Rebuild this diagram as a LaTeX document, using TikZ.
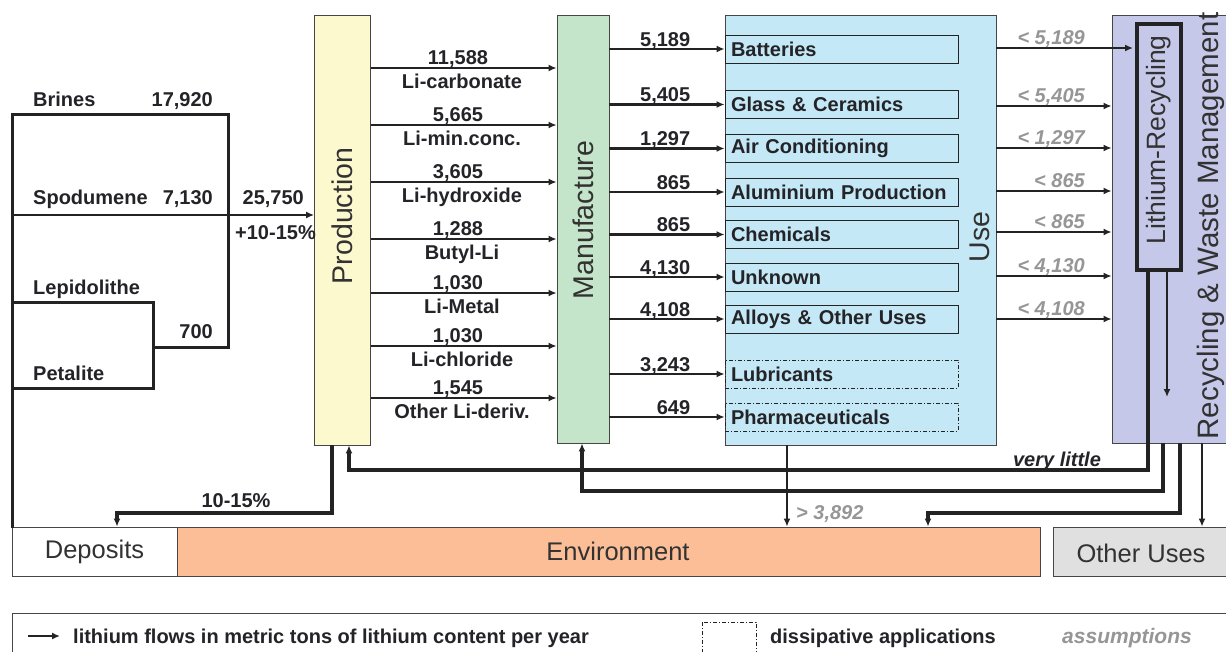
\documentclass[tikz,border=0pt]{standalone}
\usepackage{fontspec}
\setmainfont{Liberation Sans}
\usetikzlibrary{arrows.meta}
\definecolor{cprod}{RGB}{252,249,206}
\definecolor{cman}{RGB}{196,229,201}
\definecolor{cuse}{RGB}{196,232,245}
\definecolor{crec}{RGB}{198,200,233}
\definecolor{cenv}{RGB}{251,190,150}
\definecolor{coth}{RGB}{224,224,224}
\definecolor{ln}{RGB}{35,35,35}
\definecolor{bline}{RGB}{70,70,70}
\definecolor{txt}{RGB}{35,35,40}
\definecolor{gtxt}{RGB}{150,150,150}
\definecolor{ttl}{RGB}{50,50,50}
\begin{document}
\begin{tikzpicture}[x=1pt,y=-1pt,
  box/.style={draw=bline, line width=0.8pt, inner sep=0pt},
  bt/.style={font=\fontsize{20}{22}\selectfont\bfseries, text=txt, inner sep=0pt},
  gt/.style={font=\fontsize{20}{22}\selectfont\bfseries\itshape, text=gtxt, inner sep=0pt},
  ttlf/.style={font=\fontsize{28.5}{30}\selectfont, text=ttl, inner sep=0pt},
  btmf/.style={font=\fontsize{25.5}{27}\selectfont, text=ttl, inner sep=0pt},
  sub/.style={draw=ln, line width=0.9pt, minimum height=28pt, text width=221pt, inner xsep=6pt, inner ysep=0pt, align=left, font=\fontsize{20}{22}\selectfont\bfseries, text=txt},
  dsub/.style={sub, dash pattern=on 4pt off 2pt on 1pt off 2pt, line width=0.8pt},
  flow/.style={draw=ln, line width=2.2pt, -{Latex[length=8pt,width=7pt]}},
  fat/.style={draw=ln, line width=4pt},
  fatflow/.style={fat, -{Latex[length=8pt,width=7pt]}},
  src/.style={draw=ln, line width=3pt, line cap=rect}
]
\useasboundingbox (0,0) rectangle (1226,651);
\clip (0,0) rectangle (1226,651);
\fill[white] (0,0) rectangle (1226,651);

% main boxes
\node[box, fill=cprod, minimum width=56pt, minimum height=430pt] (prod) at (342.5,230) {};
\node[ttlf, rotate=90] (prodt) at (342.5,216) {Production};
\node[box, fill=cman, minimum width=52pt, minimum height=428pt] (manu) at (583,229) {};
\node[ttlf, rotate=90] (manut) at (583,220) {Manufacture};
\node[box, fill=cuse, minimum width=271pt, minimum height=430pt] (use) at (860.5,230) {};
\node[ttlf, rotate=90] (uset) at (980,237) {Use};
\node[box, fill=crec, minimum width=130pt, minimum height=428pt] (rec) at (1177,229) {};
\node[font=\fontsize{29.5}{31}\selectfont, text=ttl, inner sep=0pt, rotate=90] (rect) at (1211,226) {Recycling \& Waste Management};
\node[draw=ln, line width=4pt, inner sep=0pt, minimum width=44pt, minimum height=246pt] (lr) at (1158.5,147) {};
\node[font=\fontsize{26.5}{28}\selectfont, text=ttl, inner sep=0pt, rotate=90] (lrt) at (1158.5,140) {Lithium-Recycling};

% use sub boxes
\node[sub] (bat) at (841.5,49) {Batteries};
\node[sub] (gla) at (841.5,104.5) {Glass \& Ceramics};
\node[sub] (air) at (841.5,148.5) {Air Conditioning};
\node[sub] (alu) at (841.5,192) {Aluminium Production};
\node[sub] (che) at (841.5,234.5) {Chemicals};
\node[sub] (unk) at (841.5,277) {Unknown};
\node[sub] (all) at (841.5,319) {Alloys \& Other Uses};
\node[dsub] (lub) at (841.5,374) {Lubricants};
\node[dsub] (pha) at (841.5,417) {Pharmaceuticals};

% bottom boxes
\node[box, fill=white, minimum width=165pt, minimum height=49pt] (dep) at (94.5,551.5) {};
\node[btmf] (dept) at (94.5,552) {Deposits};
\node[box, fill=cenv, minimum width=863pt, minimum height=49pt] (env) at (608.5,551.5) {};
\node[btmf] (envt) at (618,551) {Environment};
\node[box, fill=coth, minimum width=180pt, minimum height=49pt] (oth) at (1143,551.5) {};
\node[btmf] (otht) at (1141,553) {Other Uses};

% sources
\coordinate (b1) at (12,114);
\coordinate (b2) at (228,114);
\coordinate (b3) at (228,347);
\coordinate (b4) at (153,347);
\coordinate (l1) at (12,302);
\coordinate (l2) at (153,302);
\coordinate (l3) at (153,388);
\coordinate (l4) at (12,388);
\coordinate (s1) at (12,215);
\draw[src] (b1) -- (b2) -- (b3) -- (b4);
\draw[src] (l1) -- (l2) -- (l3) -- (l4);
\draw[src] (b1) -- (dep.north -| b1);
\draw[flow] (s1) -- (prod.west |- s1);
\node[bt, anchor=base west] (brl) at (33,106) {Brines};
\node[bt, anchor=base east] (brn) at (213,106) {17,920};
\node[bt, anchor=base west] (spl) at (33,204) {Spodumene};
\node[bt, anchor=base east] (spn) at (213,204) {7,130};
\node[bt, anchor=base east] (tot) at (304,204) {25,750};
\node[bt, anchor=base east] (pct) at (316,239) {+10-15\%};
\node[bt, anchor=base west] (lepl) at (33,294) {Lepidolithe};
\node[bt, anchor=base east] (lepn) at (213,338) {700};
\node[bt, anchor=base west] (petl) at (33,380) {Petalite};

% production -> manufacture
\foreach \yy/\nn/\ll in {68/{11,588}/Li-carbonate, 125/{5,665}/Li-min.conc., 182/{3,605}/Li-hydroxide, 239/{1,288}/Butyl-Li, 293/{1,030}/Li-Metal, 346/{1,030}/Li-chloride, 398/{1,545}/Other Li-deriv.}{
  \draw[flow] (prod.east |- 0,\yy) -- (manu.west |- 0,\yy);
  \node[bt, anchor=base] at (458,\yy-4) {\nn};
  \node[bt, anchor=base] at (462,\yy+20.5) {\ll};
}

% manufacture -> use
\foreach \nd/\nn in {bat/{5,189}, gla/{5,405}, air/{1,297}, alu/{865}, che/{865}, unk/{4,130}, all/{4,108}, lub/{3,243}, pha/{649}}{
  \draw[flow] (manu.east |- \nd.west) -- (\nd.west);
  \path (manu.east |- \nd.west) ++(81,-3) node[bt, anchor=base east] {\nn};
}

% use -> recycling
\draw[flow, shorten >=1.5pt] (use.east |- 0,48) -- (lr.west |- 0,48);
\node[gt, anchor=base east] at (1085,44) {< 5,189};
\foreach \yy/\nn in {106/{< 5,405}, 148/{< 1,297}, 191/{< 865}, 232/{< 865}, 276/{< 4,130}, 319/{< 4,108}}{
  \draw[flow] (use.east |- 0,\yy) -- (rec.west |- 0,\yy);
  \node[gt, anchor=base east] at (1085,\yy-4) {\nn};
}

% bottom flows
\coordinate (d1) at (332,513);
\draw[fatflow] (prod.south -| d1) -- (d1) -- (117,513) -- (dep.north -| 117,0);
\node[bt, anchor=base] (dpct) at (236,507) {10-15\%};

\coordinate (v1) at (1148,470);
\draw[fatflow] (lr.south -| v1) -- (v1) -- (349,470) -- (prod.south -| 349,0);
\node[font=\fontsize{20}{22}\selectfont\bfseries\itshape, text=txt, inner sep=0pt, anchor=base] (vl) at (1057,466) {very little};

\coordinate (m1) at (1163,491);
\draw[fatflow] (rec.south -| m1) -- (m1) -- (582,491) -- (manu.south -| 582,0);

\coordinate (e1) at (1180,513);
\draw[fatflow] (rec.south -| e1) -- (e1) -- (928,513) -- (env.north -| 928,0);

\coordinate (o1) at (1202,0);
\draw[flow] (rec.south -| o1) -- (oth.north -| o1);

\coordinate (r1) at (1167,397);
\draw[flow] (lr.south -| r1) -- (r1);

\coordinate (u1) at (787,0);
\draw[flow, line width=2.8pt] (use.south -| u1) -- (env.north -| u1);
\node[gt, anchor=base west] (u1l) at (796,519) {> 3,892};

% legend
\node[draw=bline, line width=0.8pt, minimum width=1228pt, minimum height=47pt, inner sep=0pt] (leg) at (626,636.5) {};
\coordinate (la1) at (28,636);
\coordinate (la2) at (60,636);
\draw[flow] (la1) -- (la2);
\node[bt, anchor=base west] (legt) at (73,643) {lithium flows in metric tons of lithium content per year};
\draw[draw=ln, line width=0.8pt, dash pattern=on 4pt off 2pt on 1pt off 2pt] (702,622) rectangle (756,652);
\node[bt, anchor=base west] (legd) at (770,643) {dissipative applications};
\node[gt, anchor=base, font=\fontsize{21}{22}\selectfont\bfseries\itshape] (lega) at (1127,643) {assumptions};
\end{tikzpicture}
\end{document}
